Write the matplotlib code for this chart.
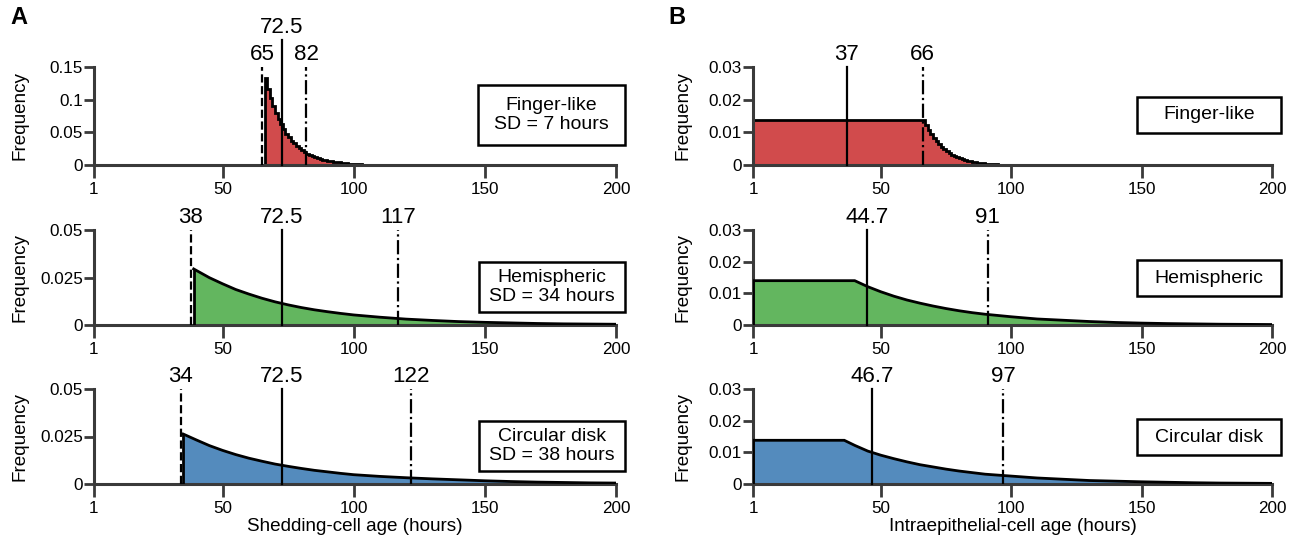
import numpy as np
import matplotlib
matplotlib.use("Agg")
import matplotlib.pyplot as plt
from matplotlib import font_manager
from matplotlib.patches import Rectangle

names = {f.name for f in font_manager.fontManager.ttflist}
narrow = "Liberation Sans Narrow" in names
if narrow:
    plt.rcParams['font.family'] = ['Liberation Sans Narrow', 'DejaVu Sans']
    k = 1.0
else:
    plt.rcParams['font.family'] = ['Liberation Sans', 'DejaVu Sans']
    k = 0.85

# ---- panel A, finger-like: hourly histogram bins (left edges) and frequencies
fingerA_edges = list(range(66, 104))
fingerA_freq = [0.133, 0.117, 0.103, 0.091, 0.080, 0.071, 0.062, 0.055, 0.048, 0.043,
                0.037, 0.033, 0.029, 0.026, 0.023, 0.020, 0.0175, 0.0155, 0.0137, 0.012,
                0.0106, 0.0094, 0.0083, 0.0073, 0.0064, 0.0057, 0.005, 0.0044, 0.0039, 0.0034,
                0.003, 0.0026, 0.0022, 0.0018, 0.0015, 0.0012, 0.0009]

# ---- panel A, hemispheric / circular disk: curve read every few hours
hemiA_age = [39, 45, 50, 55, 60, 65, 70, 75, 80, 85, 90, 95, 100, 105, 110, 115, 120,
             130, 140, 150, 160, 170, 180, 190, 200]
hemiA_freq = [0.0295, 0.0249, 0.0217, 0.0187, 0.0163, 0.0141, 0.0122, 0.0106, 0.0092, 0.0080,
              0.0070, 0.0061, 0.0053, 0.0047, 0.0041, 0.0036, 0.0031, 0.0024, 0.0018, 0.0014,
              0.0011, 0.0008, 0.0006, 0.0005, 0.0004]

circA_age = [35, 40, 45, 50, 55, 60, 65, 70, 75, 80, 85, 90, 95, 100, 110, 120, 130, 140,
             150, 160, 170, 180, 190, 200]
circA_freq = [0.0263, 0.0232, 0.0202, 0.0177, 0.0155, 0.0136, 0.0120, 0.0105, 0.0093, 0.0082,
              0.0072, 0.0064, 0.0056, 0.0049, 0.0040, 0.0033, 0.0027, 0.0022, 0.0017, 0.0013,
              0.0010, 0.0008, 0.0006, 0.0005]

# ---- panel B, finger-like: flat bin 1-66 then hourly bins
fingerB_edges = [1] + list(range(66, 97))
fingerB_freq = [0.0139, 0.0139, 0.0122, 0.0107, 0.0094, 0.0082, 0.0072, 0.0063, 0.0055, 0.0048,
                0.0042, 0.0036, 0.0031, 0.0027, 0.0023, 0.002, 0.0017, 0.0015, 0.0013, 0.0011,
                0.0009, 0.0008, 0.0007, 0.0006, 0.0005, 0.0004, 0.0003, 0.0003, 0.0002, 0.0002,
                0.0001]

hemiB_age = [1, 40, 45, 50, 55, 60, 65, 70, 75, 80, 85, 90, 95, 100, 110, 120, 130, 140,
             150, 160, 170, 180, 190, 200]
hemiB_freq = [0.0140, 0.0140, 0.0121, 0.0105, 0.0091, 0.0079, 0.0069, 0.0060, 0.0052, 0.0045,
              0.0039, 0.0034, 0.0030, 0.0026, 0.0019, 0.0015, 0.0011, 0.0008, 0.0006, 0.00045,
              0.00035, 0.00025, 0.0002, 0.00015]

circB_age = [1, 36, 40, 45, 50, 55, 60, 65, 70, 75, 80, 85, 90, 95, 100, 110, 120, 130, 140,
             150, 160, 170, 180, 190, 200]
circB_freq = [0.0138, 0.0138, 0.0122, 0.0104, 0.0091, 0.0080, 0.0070, 0.0061, 0.0054, 0.0047,
              0.0041, 0.0036, 0.0031, 0.0028, 0.0025, 0.0019, 0.0015, 0.0011, 0.0009, 0.0007,
              0.00055, 0.0004, 0.0003, 0.00025, 0.0002]

# marker lines: (value, label, style)
marksA = [
    [(65, "65", "--"), (72.5, "72.5", "-"), (82, "82", "-.")],
    [(38, "38", "--"), (72.5, "72.5", "-"), (117, "117", "-.")],
    [(34, "34", "--"), (72.5, "72.5", "-"), (122, "122", "-.")],
]
marksB = [
    [(37, "37", "-"), (66, "66", "-.")],
    [(44.7, "44.7", "-"), (91, "91", "-.")],
    [(46.7, "46.7", "-"), (97, "97", "-.")],
]
namesA = ["Finger-like\nSD = 7 hours", "Hemispheric\nSD = 34 hours", "Circular disk\nSD = 38 hours"]
namesB = ["Finger-like", "Hemispheric", "Circular disk"]

red, green, blue = "#d14b4c", "#63b65f", "#548bbd"
spine_col = "#3a3a3a"

W, H = 1289, 539
fig = plt.figure(figsize=(W / 100, H / 100), dpi=100)


def make_ax(left, right, top, bottom):
    return fig.add_axes([left / W, 1 - bottom / H, (right - left) / W, (bottom - top) / H])


rows = [(67, 165), (230, 325), (389, 484)]
axA = [make_ax(94, 616, t, b) for t, b in rows]
axB = [make_ax(753, 1272, t, b) for t, b in rows]


def style(ax, ymax, yticks, yticklabels, xlabel=None, ylab_x=-0.125):
    ax.set_xlim(1, 200)
    ax.set_ylim(0, ymax)
    ax.set_xticks([1, 50, 100, 150, 200])
    ax.set_xticklabels(["1", "50", "100", "150", "200"])
    ax.set_yticks(yticks)
    ax.set_yticklabels(yticklabels)
    for s in ["top", "right"]:
        ax.spines[s].set_visible(False)
    for s in ["left", "bottom"]:
        ax.spines[s].set_color(spine_col)
        ax.spines[s].set_linewidth(2.2)
    ax.tick_params(direction="out", length=7, width=2, color=spine_col, labelsize=14.5 * k, pad=1)
    ax.tick_params(axis="x", length=9, pad=3)
    ax.set_ylabel("Frequency", fontsize=16 * k)
    ax.yaxis.set_label_coords(ylab_x, 0.5)
    if xlabel:
        ax.set_xlabel(xlabel, fontsize=16 * k)
        ax.xaxis.set_label_coords(0.5, -0.36)
    ax.set_facecolor("none")


def curve(ax, x, y, color):
    ax.fill_between(x, 0, y, color=color, lw=0, zorder=2)
    ax.plot(x, y, color="black", lw=2, zorder=3, solid_joinstyle="miter")
    ax.vlines(x[0], 0, y[0], color="black", lw=2, zorder=3)


def marks(ax, items, ymax, tall=None):
    for val, lab, ls in items:
        top = ymax
        if tall is not None and ls == "-":
            top = tall
        ax.plot([val, val], [0, top], ls=ls, color="black", lw=1.6, clip_on=False, zorder=4)
        ax.text(val, top + ymax * 0.02, lab, ha="center", va="bottom", fontsize=19 * k)


def box(ax, x0, x1, y0, y1, text):
    ax.add_patch(Rectangle((x0, y0), x1 - x0, y1 - y0, transform=ax.transAxes,
                           fill=False, ec="black", lw=1.8, clip_on=False, zorder=5))
    ax.text((x0 + x1) / 2, (y0 + y1) / 2, text, transform=ax.transAxes, ha="center",
            va="center", fontsize=16.5 * k, linespacing=1.15)


# panel A
a0, a1, a2 = axA
a0.stairs(fingerA_freq, fingerA_edges, fill=True, facecolor=red, edgecolor="black",
          lw=2, zorder=2)
curve(a1, hemiA_age, hemiA_freq, green)
curve(a2, circA_age, circA_freq, blue)
style(a0, 0.15, [0, 0.05, 0.1, 0.15], ["0", "0.05", "0.1", "0.15"])
style(a1, 0.05, [0, 0.025, 0.05], ["0", "0.025", "0.05"])
style(a2, 0.05, [0, 0.025, 0.05], ["0", "0.025", "0.05"], "Shedding-cell age (hours)")
marks(a0, marksA[0], 0.15, tall=0.15 * 1.28)
marks(a1, marksA[1], 0.05)
marks(a2, marksA[2], 0.05)
box(a0, 0.736, 1.017, 0.204, 0.816, namesA[0])
box(a1, 0.737, 1.017, 0.137, 0.663, namesA[1])
box(a2, 0.737, 1.017, 0.137, 0.663, namesA[2])

# panel B
b0, b1, b2 = axB
b0.stairs(fingerB_freq, fingerB_edges, fill=True, facecolor=red, edgecolor="black",
          lw=2, zorder=2)
curve(b1, hemiB_age, hemiB_freq, green)
curve(b2, circB_age, circB_freq, blue)
for b, lab in zip(axB, [None, None, "Intraepithelial-cell age (hours)"]):
    style(b, 0.03, [0, 0.01, 0.02, 0.03], ["0", "0.01", "0.02", "0.03"], lab, ylab_x=-0.118)
for b, m in zip(axB, marksB):
    marks(b, m, 0.03)
box(b0, 0.740, 1.017, 0.327, 0.694, namesB[0])
box(b1, 0.740, 1.017, 0.305, 0.684, namesB[1])
box(b2, 0.740, 1.017, 0.305, 0.684, namesB[2])

fig.text(10 / W, 1 - 18 / H, "A", fontsize=17, fontweight="bold", va="center")
fig.text(668 / W, 1 - 18 / H, "B", fontsize=17, fontweight="bold", va="center")

fig.savefig("out.png", dpi=100)
